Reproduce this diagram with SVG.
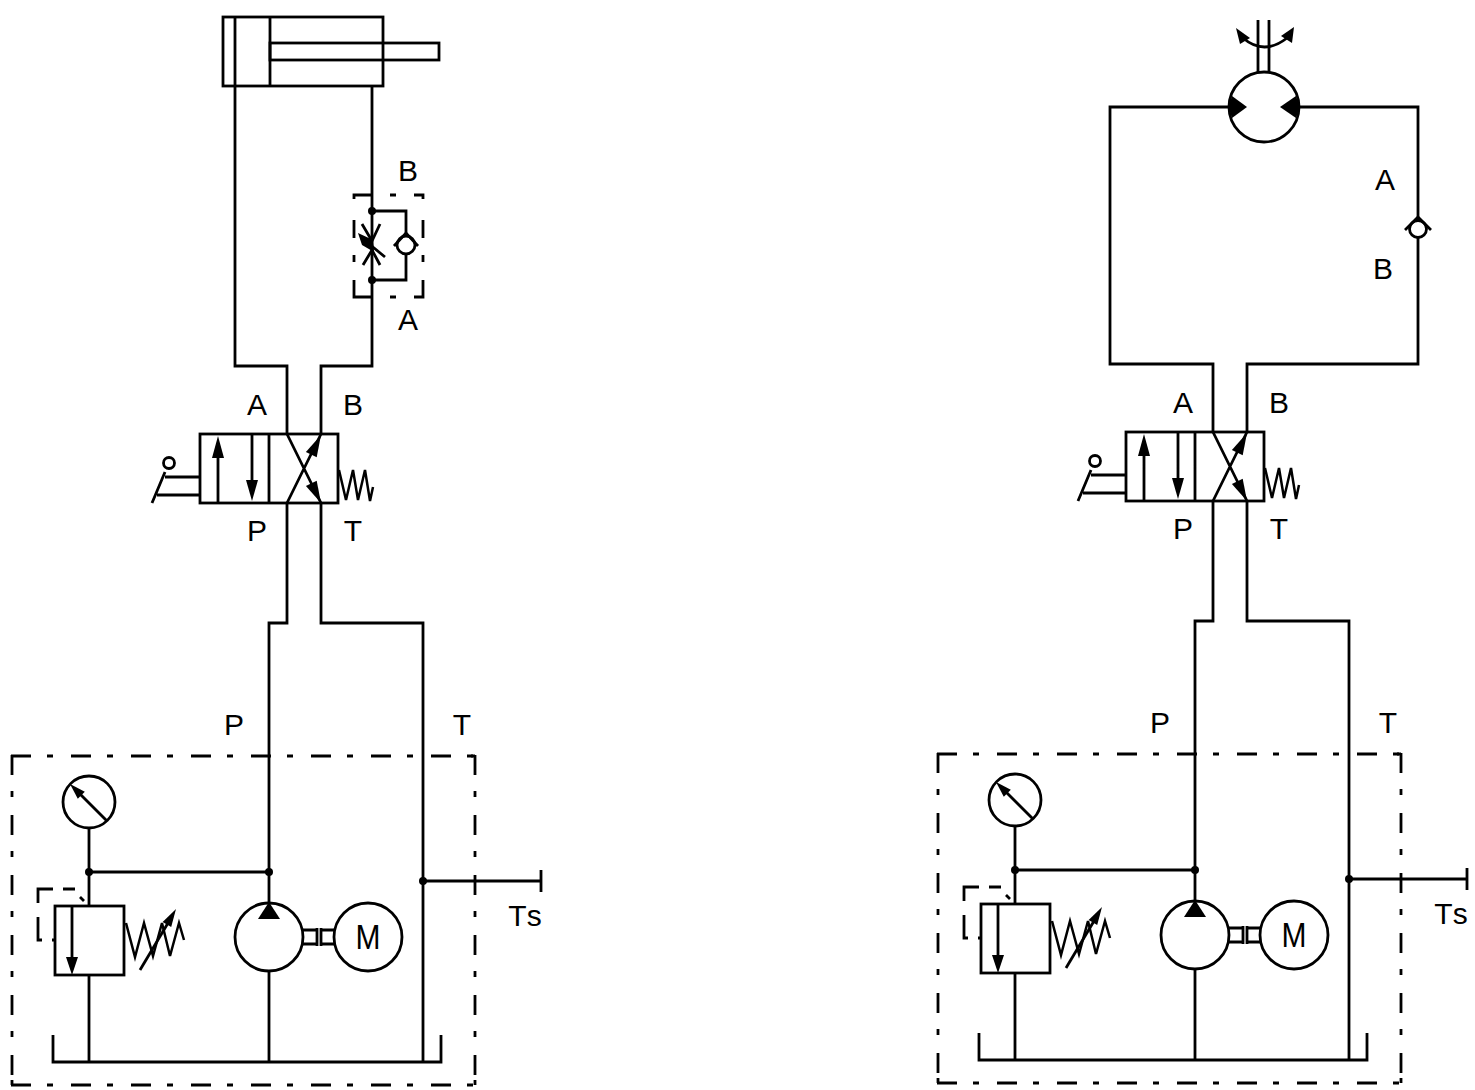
<svg xmlns="http://www.w3.org/2000/svg" width="1475" height="1090" viewBox="0 0 1475 1090">
<style>
.l{fill:none;stroke:#000;stroke-width:2.8;stroke-linejoin:miter;stroke-linecap:butt}
.w{fill:#fff;stroke:#000;stroke-width:2.8}
.s{fill:none;stroke:#000;stroke-width:2.5;stroke-linejoin:miter}
.f{fill:#000;stroke:none}
.d{fill:none;stroke:#000;stroke-width:2.8;stroke-dasharray:20 16 6 18}
text{font-family:"Liberation Sans",Arial,sans-serif;font-size:30px;fill:#000;text-anchor:middle;font-kerning:none}
</style>
<rect width="1475" height="1090" fill="#fff"/>
<g id="connectors">
<path class="l" d="M235 86V366H287V434M372 86V366H321V434"/>
<path class="l" d="M287 503V623H269V1062M321 503V623H423V1062"/>
<path class="l" d="M269 872H89M89 828V906M89 975V1062M423 881H541M541 870V892"/>
<path class="l" d="M1230 107H1110V364H1213V432M1299 107H1418V364H1247V432"/>
<path class="l" d="M1213 501V621H1195V1060M1247 501V621H1349V1060"/>
<path class="l" d="M1195 870H1015M1015 826V904M1015 973V1060M1349 879H1467M1467 868V890"/>
</g>
<g id="cylinder">
<rect class="l" x="223" y="17" width="160" height="69"/>
<path class="l" d="M235 17V86M270 17V86"/>
<rect class="l" x="270" y="43" width="169" height="17"/>
</g>
<g id="flow-control">
<path class="l" d="M354 199V195H372M390 195H396M414 195H423V199M354 220V238M354 255V262M354 280V297H372M390 297H396M414 297H423V280M423 220V238M423 255V262"/>
<path class="l" d="M372 211H406V236M406 254V280H372"/>
<circle class="f" cx="372" cy="211" r="4"/><circle class="f" cx="372" cy="280" r="4"/>
<circle class="l" cx="406" cy="245" r="9"/>
<path class="l" d="M394 246L406 233L418 246"/>
<path class="l" d="M362 224L372 241L380 224M363 265L372 250L380 265M362 238L385 257"/>
<polygon class="f" points="358,233 373,240 374,252 362,245"/>
</g>
<g id="valve">
<rect class="l" x="200" y="434" width="138" height="69"/>
<path class="l" d="M269 434V503M218 503V450M252 434V490M287 434L321 503M287 503L321 434"/>
<polygon class="f" points="218,436 224,458 212,458"/><polygon class="f" points="252,501 258,480 246,480"/>
<polygon class="f" points="321,435 316.7,457.3 305.9,452.1"/><polygon class="f" points="321,503 316.7,480.7 305.9,485.9"/>
<path class="l" d="M200 477H165M200 495H157M152 503L165 472"/>
<circle class="l" cx="169" cy="463" r="5.5"/>
<path class="s" d="M339 470L346 500L353 470L358 500L365 470L370 501L373 487"/>
</g>
<g id="gauge">
<circle class="l" cx="89" cy="802" r="26"/>
<path class="l" d="M75 789L107 821"/>
<polygon class="f" points="70,784 84.8,791.8 77.8,798.8"/>
<circle class="f" cx="89" cy="872" r="4"/>
<circle class="f" cx="269" cy="872" r="4"/>
</g>
<g id="relief-valve">
<rect class="l" x="55" y="906" width="69" height="69"/>
<path class="l" d="M72 906V960"/>
<polygon class="f" points="72,975 78,957 66,957"/>
<path class="l" d="M53 889H38V903M63 889H75M80 897L84 901M38 917V940H42M52 940H54"/>
<path class="s" d="M126 923L135 957L144 923L153 956L162 923L170 956L179 923L184 940"/>
<path class="l" d="M140 970L168 923"/>
<polygon class="f" points="176,909 171.2,927 162.6,922"/>
</g>
<g id="pump">
<circle class="w" cx="269" cy="937" r="34"/>
<polygon class="f" points="269,902 280,919 258,919"/>
</g>
<g id="motor">
<path class="l" d="M303 930H317M303 944H317M321 930H335M321 944H335M317 928V946M321 928V946"/>
<circle class="w" cx="368" cy="937" r="34"/>
<text x="368" y="949" style="font-size:35px" textLength="25" lengthAdjust="spacingAndGlyphs">M</text>
</g>
<g id="tank"><path class="l" d="M53 1035V1062H441V1035"/></g>
<circle class="f" cx="423" cy="881" r="4"/>
<g id="power-unit-box">
<path class="d" d="M11 756H475M11 1085H475M12 755V1085M475 755V1085"/>
<path class="l" d="M471 756H475M12 1080V1085M475 1080V1085"/>
</g>
<g id="labels-left">
<text x="408" y="181">B</text><text x="408" y="330">A</text>
<text x="257" y="415">A</text><text x="353" y="415">B</text>
<text x="257" y="541">P</text><text x="353" y="541">T</text>
<text x="234" y="735">P</text><text x="462" y="735">T</text>
<text x="525" y="926">Ts</text>
</g>

<g id="rotary-motor">
<path class="l" d="M1258 20V73M1269 20V73"/>
<path class="l" d="M1243 38Q1264 56 1287 38"/>
<polygon class="f" points="1236,28 1250,38 1240,44"/><polygon class="f" points="1294,27 1292,43 1281,36"/>
<circle class="w" cx="1264" cy="107" r="35"/>
<path class="f" d="M1232 96L1247 107L1232 118Q1227 107 1232 96Z"/>
<path class="f" d="M1296 96L1280 107L1296 118Q1301 107 1296 96Z"/>
</g>
<g id="check-valve">
<circle class="w" cx="1418" cy="229" r="8.5"/>
<path class="l" d="M1405 230L1418 217L1431 230"/>
</g>
<g id="valve-2" transform="translate(926,-2)">
<rect class="l" x="200" y="434" width="138" height="69"/>
<path class="l" d="M269 434V503M218 503V450M252 434V490M287 434L321 503M287 503L321 434"/>
<polygon class="f" points="218,436 224,458 212,458"/><polygon class="f" points="252,501 258,480 246,480"/>
<polygon class="f" points="321,435 316.7,457.3 305.9,452.1"/><polygon class="f" points="321,503 316.7,480.7 305.9,485.9"/>
<path class="l" d="M200 477H165M200 495H157M152 503L165 472"/>
<circle class="l" cx="169" cy="463" r="5.5"/>
<path class="s" d="M339 470L346 500L353 470L358 500L365 470L370 501L373 487"/>
</g>
<g id="gauge-2" transform="translate(926,-2)">
<circle class="l" cx="89" cy="802" r="26"/>
<path class="l" d="M75 789L107 821"/>
<polygon class="f" points="70,784 84.8,791.8 77.8,798.8"/>
<circle class="f" cx="89" cy="872" r="4"/>
<circle class="f" cx="269" cy="872" r="4"/>
</g>
<g id="relief-valve-2" transform="translate(926,-2)">
<rect class="l" x="55" y="906" width="69" height="69"/>
<path class="l" d="M72 906V960"/>
<polygon class="f" points="72,975 78,957 66,957"/>
<path class="l" d="M53 889H38V903M63 889H75M80 897L84 901M38 917V940H42M52 940H54"/>
<path class="s" d="M126 923L135 957L144 923L153 956L162 923L170 956L179 923L184 940"/>
<path class="l" d="M140 970L168 923"/>
<polygon class="f" points="176,909 171.2,927 162.6,922"/>
</g>
<g id="pump-2" transform="translate(926,-2)">
<circle class="w" cx="269" cy="937" r="34"/>
<polygon class="f" points="269,902 280,919 258,919"/>
</g>
<g id="motor-2" transform="translate(926,-2)">
<path class="l" d="M303 930H317M303 944H317M321 930H335M321 944H335M317 928V946M321 928V946"/>
<circle class="w" cx="368" cy="937" r="34"/>
<text x="368" y="949" style="font-size:35px" textLength="25" lengthAdjust="spacingAndGlyphs">M</text>
</g>
<g id="tank-2" transform="translate(926,-2)"><path class="l" d="M53 1035V1062H441V1035"/></g>
<circle class="f" cx="1349" cy="879" r="4"/>
<g id="power-unit-box-2" transform="translate(926,-2)">
<path class="d" d="M11 756H475M11 1085H475M12 755V1085M475 755V1085"/>
<path class="l" d="M471 756H475M12 1080V1085M475 1080V1085"/>
</g>
<g id="labels-right">
<text x="1385" y="190">A</text><text x="1383" y="279">B</text>
<text x="1183" y="413">A</text><text x="1279" y="413">B</text>
<text x="1183" y="539">P</text><text x="1279" y="539">T</text>
<text x="1160" y="733">P</text><text x="1388" y="733">T</text>
<text x="1451" y="924">Ts</text>
</g>
</svg>
